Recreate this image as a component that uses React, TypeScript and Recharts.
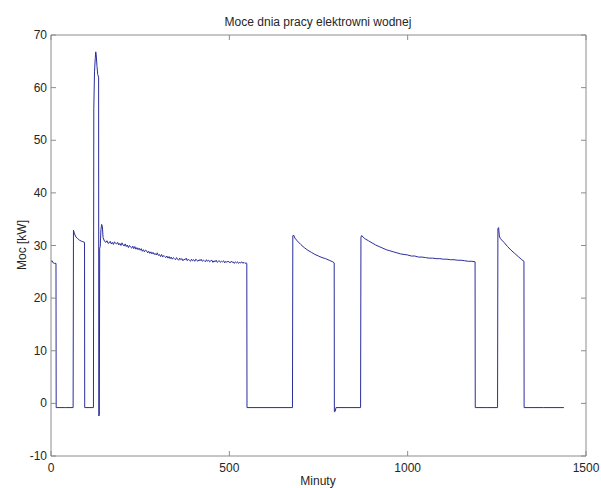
import React from 'react';
import { LineChart, Line, XAxis, YAxis } from 'recharts';

// [minute, kW] pairs
const morningRun: [number, number][] = [
  [0, 27.0], [3, 27.1], [6, 26.7], [10, 26.6], [14, 26.6], [14.5, -0.8], [40, -0.8], [62, -0.8],
];
const secondRun: [number, number][] = [
  [63, 32.9], [66, 32.2], [70, 31.6], [75, 31.3], [80, 31.0], [86, 30.8], [94, 30.6], [94.5, -0.8], [119, -0.8],
];
const peakRun: [number, number][] = [
  [120, 56], [122, 63], [124, 65.5], [125.5, 66.8], [127, 66.0], [129, 64.0], [131, 62.5], [133.5, 62.0],
  [134, -2.4], [135.5, -2.2], [136.5, 29.5], [138, 29.8], [140, 33.0], [142, 34.0], [144, 33.6], [146, 31.5], [150, 30.8],
];
const longRun: [number, number][] = [
  [154, 30.6], [157, 30.9], [160, 30.4], [163, 30.5], [166, 30.8], [169, 30.3], [172, 30.6], [175, 30.2],
  [178, 30.7], [181, 30.4], [184, 30.3], [187, 30.6], [190, 30.1], [193, 30.4], [196, 30.0], [199, 30.5],
  [202, 30.1], [205, 29.9], [208, 30.3], [211, 29.8], [214, 30.1], [217, 29.6], [220, 30.0], [223, 29.7],
  [226, 29.5], [229, 29.9], [232, 29.4], [235, 29.8], [238, 29.3], [241, 29.6], [244, 29.2], [247, 29.5],
  [250, 29.1], [253, 29.4], [256, 28.9], [259, 29.2], [262, 28.8], [265, 29.1], [268, 29.0], [271, 28.6],
  [274, 28.9], [277, 28.5], [280, 28.8], [283, 28.4], [286, 28.7], [289, 28.3], [292, 28.5], [295, 28.2],
  [298, 28.6], [301, 28.1], [304, 28.3], [307, 27.9], [310, 28.3], [313, 27.8], [316, 28.1], [319, 27.9],
  [322, 27.7], [325, 28.0], [328, 27.6], [331, 27.9], [334, 27.5], [337, 27.8], [340, 27.4], [343, 27.7],
  [346, 27.5], [349, 27.3], [352, 27.7], [355, 27.4], [358, 27.2], [361, 27.6], [364, 27.3], [367, 27.5],
  [370, 27.1], [373, 27.4], [376, 27.3], [379, 27.6], [382, 27.1], [385, 27.4], [388, 27.2], [391, 27.0],
  [394, 27.4], [397, 27.1], [400, 27.3], [403, 27.0], [406, 27.4], [409, 27.2], [412, 27.0], [415, 27.3],
  [418, 27.1], [421, 27.4], [424, 27.0], [427, 27.2], [430, 27.1], [433, 26.9], [436, 27.3], [439, 27.0],
  [442, 27.2], [445, 26.9], [448, 27.1], [451, 27.2], [454, 26.8], [457, 27.1], [460, 26.9], [463, 27.2],
  [466, 26.8], [469, 27.0], [472, 27.1], [475, 26.8], [478, 27.0], [481, 26.9], [484, 27.1], [487, 26.7],
  [490, 27.0], [493, 26.8], [496, 27.0], [499, 26.9], [502, 26.7], [505, 27.0], [508, 26.8], [511, 26.9],
  [514, 26.6], [517, 26.9], [520, 26.7], [523, 26.9], [526, 26.6], [529, 26.8], [532, 26.7], [535, 26.9],
  [538, 26.6], [541, 26.8], [544, 26.6], [547, 26.7], [549, 26.6],
  [549.5, -0.8], [600, -0.8], [677, -0.8],
];
const afternoonRun: [number, number][] = [
  [678, 31.8], [680, 32.0], [684, 31.4], [690, 30.9], [700, 30.2], [710, 29.6], [720, 29.1], [730, 28.7],
  [740, 28.3], [750, 28.0], [760, 27.7], [770, 27.5], [780, 27.2], [790, 26.9], [794, 26.7],
  [794.5, -1.6], [797, -1.5], [799, -0.8], [830, -0.8], [868, -0.8],
];
const eveningRun: [number, number][] = [
  [869, 31.6], [871, 31.9], [875, 31.6], [880, 31.3], [890, 30.9], [900, 30.5], [910, 30.1], [920, 29.8],
  [930, 29.5], [940, 29.2], [950, 29.0], [960, 28.8], [970, 28.6], [980, 28.4], [990, 28.3], [1000, 28.2],
  [1010, 28.0], [1020, 28.0], [1030, 27.8], [1040, 27.8], [1050, 27.7], [1060, 27.6], [1070, 27.6],
  [1080, 27.5], [1090, 27.5], [1100, 27.4], [1110, 27.4], [1120, 27.3], [1130, 27.3], [1140, 27.2],
  [1150, 27.2], [1160, 27.1], [1170, 27.0], [1180, 27.0], [1189, 26.9],
  [1189.5, -0.8], [1220, -0.8], [1252, -0.8],
];
const nightRun: [number, number][] = [
  [1253, 33.2], [1255, 33.4], [1257, 31.8], [1260, 31.3], [1270, 30.6], [1280, 29.8], [1290, 29.1],
  [1300, 28.5], [1310, 27.9], [1320, 27.3], [1326, 27.0],
  [1326.5, -0.8], [1380, -0.8], [1438, -0.8],
];

const xTicks = [0, 500, 1000, 1500];
const yTicks = [-10, 0, 10, 20, 30, 40, 50, 60, 70];

const data = [...morningRun, ...secondRun, ...peakRun, ...longRun, ...afternoonRun, ...eveningRun, ...nightRun]
  .map(([m, p]) => ({ m, p }));

const AXIS = '#8c8c8c';
const TEXT = '#262626';
const LINE = '#2a2e9a';
const FONT = '"Liberation Sans", Arial, sans-serif';

const BottomTick = (props: any) => {
  const { x, y, payload } = props;
  return (
    <g>
      <line x1={x} y1={y} x2={x} y2={y - 5} stroke={AXIS} />
      <text x={x} y={y + 16} textAnchor="middle" fontSize={12} fill={TEXT} fontFamily={FONT}>
        {payload.value}
      </text>
    </g>
  );
};
const TopTick = (props: any) => {
  const { x, y } = props;
  return <line x1={x} y1={y} x2={x} y2={y + 5} stroke={AXIS} />;
};
const LeftTick = (props: any) => {
  const { x, y, payload } = props;
  return (
    <g>
      <line x1={x} y1={y} x2={x + 5} y2={y} stroke={AXIS} />
      <text x={x - 4} y={y + 4} textAnchor="end" fontSize={12} fill={TEXT} fontFamily={FONT}>
        {payload.value}
      </text>
    </g>
  );
};
const RightTick = (props: any) => {
  const { x, y } = props;
  return <line x1={x} y1={y} x2={x - 5} y2={y} stroke={AXIS} />;
};

export default function App() {
  return (
    <div
      style={{
        position: 'fixed', left: 0, top: 0, width: 601, height: 488, overflow: 'hidden',
        background: '#fff', fontFamily: FONT, color: TEXT,
      }}
    >
      <LineChart width={601} height={488} data={data} margin={{ top: 34, right: 14, bottom: 31, left: 50 }}>
        <XAxis
          xAxisId="b"
          dataKey="m"
          type="number"
          domain={[0, 1500]}
          ticks={xTicks}
          allowDataOverflow
          height={1}
          tickSize={0}
          tickMargin={0}
          tickLine={false}
          axisLine={{ stroke: AXIS }}
          tick={<BottomTick />}
          interval={0}
        />
        <XAxis
          xAxisId="t"
          orientation="top"
          dataKey="m"
          type="number"
          domain={[0, 1500]}
          ticks={xTicks}
          allowDataOverflow
          height={1}
          tickSize={0}
          tickMargin={0}
          tickLine={false}
          axisLine={{ stroke: AXIS }}
          tick={<TopTick />}
          interval={0}
        />
        <YAxis
          yAxisId="l"
          type="number"
          domain={[-10, 70]}
          ticks={yTicks}
          allowDataOverflow
          width={1}
          tickSize={0}
          tickMargin={0}
          tickLine={false}
          axisLine={{ stroke: AXIS }}
          tick={<LeftTick />}
          interval={0}
        />
        <YAxis
          yAxisId="r"
          orientation="right"
          type="number"
          domain={[-10, 70]}
          ticks={yTicks}
          allowDataOverflow
          width={1}
          tickSize={0}
          tickMargin={0}
          tickLine={false}
          axisLine={{ stroke: AXIS }}
          tick={<RightTick />}
          interval={0}
        />
        <Line
          xAxisId="b"
          yAxisId="l"
          type="linear"
          dataKey="p"
          stroke={LINE}
          strokeWidth={1}
          dot={false}
          isAnimationActive={false}
        />
      </LineChart>
      <div style={{ position: 'absolute', left: 118, width: 400, top: 15, textAlign: 'center', fontSize: 12, lineHeight: '14px' }}>
        Moce dnia pracy elektrowni wodnej
      </div>
      <div
        style={{
          position: 'absolute', left: 22 - 60, top: 245 - 7, width: 120, textAlign: 'center', fontSize: 12,
          lineHeight: '14px', transform: 'rotate(-90deg)',
        }}
      >
        Moc [kW]
      </div>
      <div style={{ position: 'absolute', left: 318 - 60, width: 120, top: 474, textAlign: 'center', fontSize: 12, lineHeight: '14px' }}>
        Minuty
      </div>
    </div>
  );
}
